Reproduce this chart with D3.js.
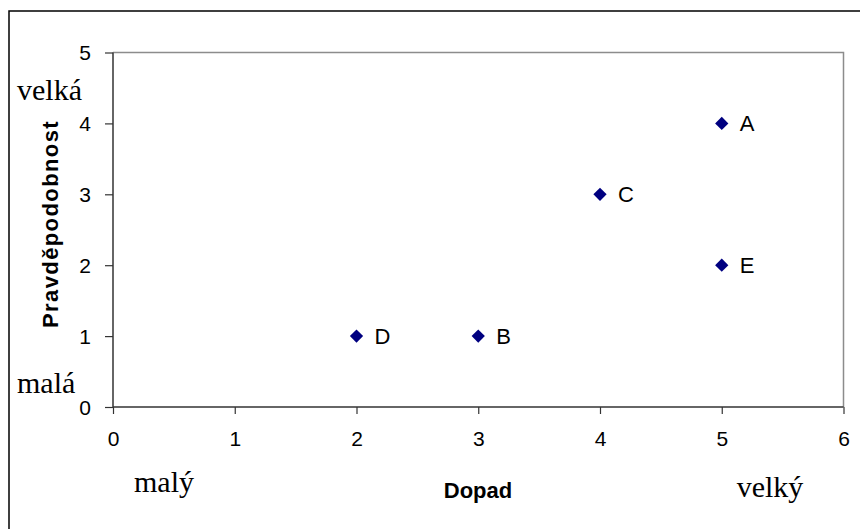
<!DOCTYPE html>
<html>
<head>
<meta charset="utf-8">
<script src="https://cdn.jsdelivr.net/npm/d3@7"></script>
<style>
  body { margin: 0; background: white; }
  svg { display: block; }
</style>
</head>
<body>
<div id="graph"></div>
<script>
// risk matrix points
const names = ["A", "B", "C", "D", "E"];
const dopad = [5, 3, 4, 2, 5];
const pravdepodobnost = [4, 1, 3, 1, 2];
const xTicks = [0, 1, 2, 3, 4, 5, 6];
const yTicks = [0, 1, 2, 3, 4, 5];

let width = 860, height = 529;

var svg = d3.select('#graph')
  .append("svg")
  .attr("width", width).attr("height", height)
  .style("background", "white");

// outer frame (runs off the right and bottom edge)
svg.append("rect")
  .attr("x", 9).attr("y", 11)
  .attr("width", 900).attr("height", 600)
  .attr("fill", "none")
  .attr("stroke", "black")
  .attr("stroke-width", 1.5);

var xScale = d3.scaleLinear().domain([0, 6]).range([113, 843.5]);
var yScale = d3.scaleLinear().domain([0, 5]).range([407, 52.5]);

// plot border, grey top and right
svg.append("path")
  .attr("d", `M${xScale(0)},${yScale(5)}H${xScale(6)}V${yScale(0)}`)
  .attr("fill", "none")
  .attr("stroke", "#8c8c8c")
  .attr("stroke-width", 1.5);

var xAxis = d3.axisBottom(xScale).tickValues(xTicks).tickSize(7).tickPadding(17).tickFormat(d3.format("d"));
var yAxis = d3.axisLeft(yScale).tickValues(yTicks).tickSize(8).tickPadding(14).tickFormat(d3.format("d"));

var gx = svg.append("g").attr("transform", `translate(0,${yScale(0)})`).call(xAxis);
var gy = svg.append("g").attr("transform", `translate(${xScale(0)},0)`).call(yAxis);

[gx, gy].forEach(g => {
  g.select(".domain").attr("stroke", "#333").attr("stroke-width", 1.5);
  g.selectAll(".tick line").attr("stroke", "#333").attr("stroke-width", 1.2);
  g.selectAll("text")
    .attr("fill", "black")
    .style("font-family", "Arial, 'Liberation Sans', sans-serif")
    .style("font-size", "21px");
});
gx.select(".domain").attr("d", `M${xScale(0)},0H${xScale(6)}`);
gy.select(".domain").attr("d", `M0,${yScale(0)}V${yScale(5)}`);
gy.selectAll("text").attr("dy", "0.35em");

// points
var diamond = d3.symbol().type(d3.symbolSquare).size(88);
svg.append("g").selectAll("path")
  .data(names)
  .enter().append("path")
  .attr("d", diamond)
  .attr("transform", (d, i) => `translate(${xScale(dopad[i])},${yScale(pravdepodobnost[i])}) rotate(45)`)
  .attr("fill", "#000080");

svg.append("g").selectAll("text")
  .data(names)
  .enter().append("text")
  .attr("x", (d, i) => xScale(dopad[i]) + 18)
  .attr("y", (d, i) => yScale(pravdepodobnost[i]))
  .attr("dy", "0.36em")
  .style("font-family", "Arial, 'Liberation Sans', sans-serif")
  .style("font-size", "22px")
  .text(d => d);

// axis titles
svg.append("text")
  .attr("x", 478).attr("y", 498)
  .style("text-anchor", "middle")
  .style("font-family", "Arial, 'Liberation Sans', sans-serif")
  .style("font-weight", "bold")
  .style("font-size", "22px")
  .text("Dopad");

svg.append("text")
  .attr("transform", "translate(58,224) rotate(-90)")
  .style("text-anchor", "middle")
  .style("font-family", "Arial, 'Liberation Sans', sans-serif")
  .style("font-weight", "bold")
  .style("font-size", "22px")
  .style("letter-spacing", "1.4px")
  .text("Pravděpodobnost");

// serif scale words
const serif = "'Times New Roman', 'Liberation Serif', serif";
[["velká", 17, 100, "start"], ["malá", 17, 393, "start"], ["malý", 164, 492, "middle"], ["velký", 770, 497, "middle"]]
  .forEach(([t, x, y, a]) => {
    svg.append("text")
      .attr("x", x).attr("y", y)
      .style("text-anchor", a)
      .style("font-family", serif)
      .style("font-size", "30px")
      .text(t);
  });
</script>
</body>
</html>
